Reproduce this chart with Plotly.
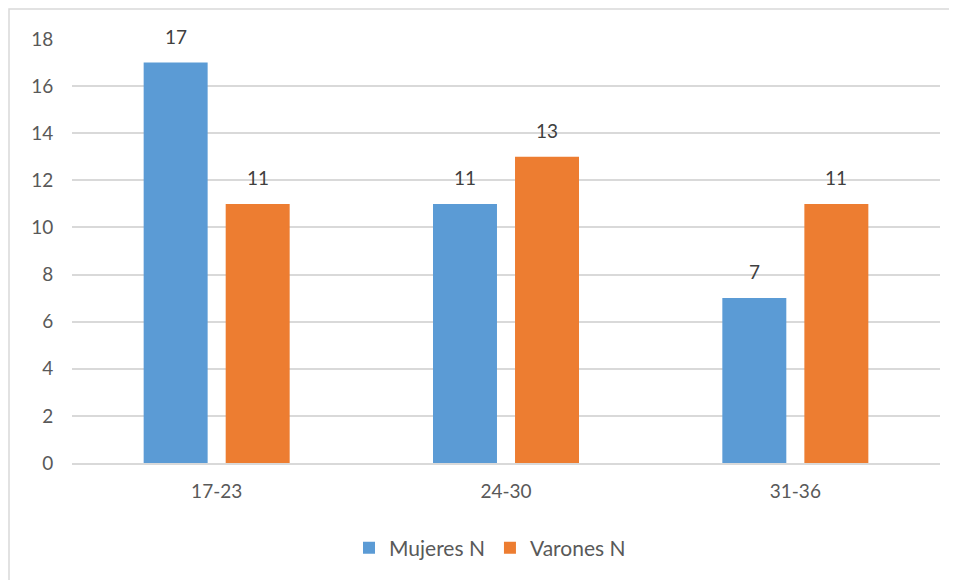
import plotly.graph_objects as go

categories = ["17-23", "24-30", "31-36"]
mujeres = [17, 11, 7]
varones = [11, 13, 11]
series_names = ["Mujeres N", "Varones N"]
y_ticks = [0, 2, 4, 6, 8, 10, 12, 14, 16, 18]

# page body adds an 8px offset; figure sized to end at the window edge
W, H = 949, 572
ML, MR, MT, MB = 64, 17, 31, 117
FONT = "Lato, Carlito, Calibri, sans-serif"
TXT = "#595959"
colors = ["#5B9BD5", "#ED7D31"]

fig = go.Figure()
for name, vals, col in zip(series_names, [mujeres, varones], colors):
    fig.add_trace(go.Bar(x=categories, y=vals, name=name,
                         marker=dict(color=col, line=dict(width=0))))

plot_w = W - ML - MR
plot_h = H - MT - MB
cat_w = plot_w / len(categories)
bargap = 0.433
slot = (1 - bargap) * cat_w / 2

annotations = []
for j, vals in enumerate([mujeres, varones]):
    for c, v in zip(categories, vals):
        annotations.append(dict(x=c, y=v, xref="x", yref="y", text=str(v),
                                showarrow=False, yanchor="bottom",
                                xshift=(j - 0.5) * slot, yshift=13,
                                font=dict(family=FONT, size=19, color="#404040")))

fig.update_layout(
    width=W, height=H,
    margin=dict(l=ML, r=MR, t=MT, b=MB),
    paper_bgcolor="white", plot_bgcolor="white",
    barmode="group", bargap=bargap, bargroupgap=0.22,
    font=dict(family=FONT, size=19, color=TXT),
    showlegend=True,
    legend=dict(orientation="h", x=(490 - 8 - ML) / plot_w, xanchor="center",
                y=-(548 - 8 - (H - MB)) / plot_h, yanchor="middle",
                font=dict(family=FONT, size=21, color=TXT),
                itemwidth=30, traceorder="normal"),
    annotations=annotations,
    shapes=[dict(type="rect", xref="paper", yref="paper",
                 x0=(1 - ML) / plot_w, x1=1.2,
                 y0=-0.5, y1=(plot_h + MT - 1) / plot_h,
                 line=dict(color="#d9d9d9", width=1.5), layer="below")],
)
fig.update_xaxes(showgrid=False, showline=True, linecolor="#d9d9d9", linewidth=1.5,
                 ticks="outside", ticklen=10, tickcolor="rgba(0,0,0,0)",
                 tickfont=dict(family=FONT, size=19, color=TXT), zeroline=False)
fig.update_yaxes(range=[0, 18], tickvals=y_ticks, showgrid=True, gridcolor="#d9d9d9",
                 gridwidth=1.5, zeroline=False, showline=False,
                 ticks="outside", ticklen=14, tickcolor="rgba(0,0,0,0)",
                 tickfont=dict(family=FONT, size=19, color=TXT))

fig.write_html("out.html")
